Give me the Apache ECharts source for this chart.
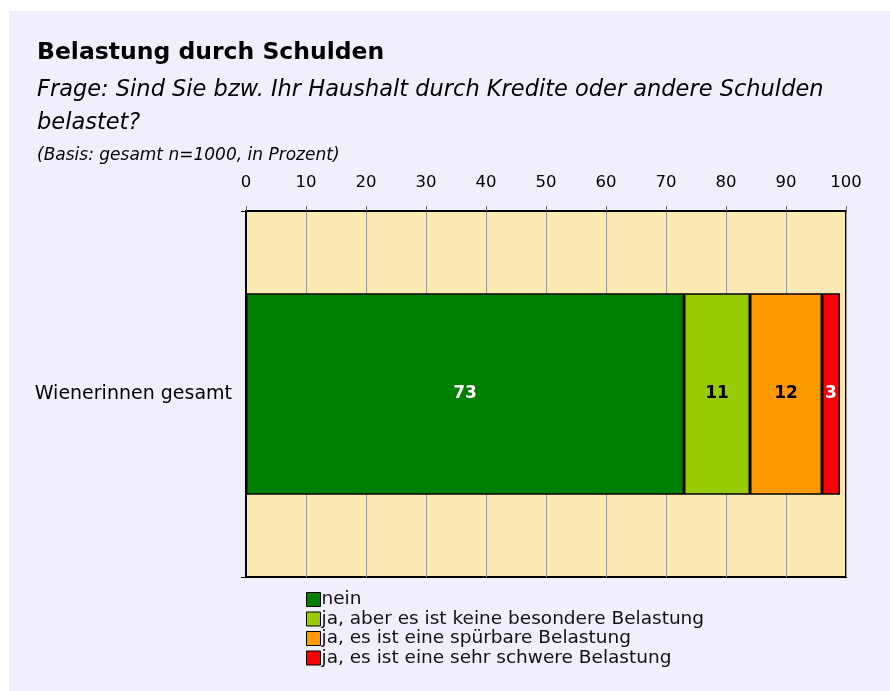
<!DOCTYPE html>
<html>
<head>
<meta charset="utf-8">
<script src="https://cdn.jsdelivr.net/npm/echarts@6/dist/echarts.min.js"></script>
<style>
  html, body { margin: 0; padding: 0; background: #fff; }
  #chart { width: 890px; height: 691px; }
</style>
</head>
<body>
<div id="chart"></div>
<script>
  const categories = ["Wienerinnen gesamt"];
  const seriesNames = [
    "nein",
    "ja, aber es ist keine besondere Belastung",
    "ja, es ist eine spürbare Belastung",
    "ja, es ist eine sehr schwere Belastung"
  ];
  const seriesValues = [[73], [11], [12], [3]];
  const seriesColors = ["#008000", "#99cc00", "#ff9900", "#ff0000"];
  const labelColors = ["#fff", "#000", "#000", "#fff"];

  const font = "'DejaVu Sans', sans-serif";
  const myChart = echarts.init(document.getElementById("chart"));

  let series = [];
  for (let i = 0; i < seriesNames.length; i++) {
    series.push({
      name: seriesNames[i],
      type: "bar",
      stack: "total",
      barWidth: "55%",
      data: seriesValues[i],
      itemStyle: {
        color: seriesColors[i],
        borderColor: "#000",
        borderWidth: 1.5
      },
      label: {
        show: true,
        position: "inside",
        color: labelColors[i],
        fontFamily: font,
        fontWeight: "bold",
        fontSize: 17
      }
    });
  }

  myChart.setOption({
    backgroundColor: "#fff",
    animation: false,
    graphic: [
      {
        // lavender panel, white strip on top and left
        type: "rect",
        z: -10,
        silent: true,
        shape: { x: 9, y: 11, width: 881, height: 680 },
        style: { fill: "#f0f0fd" }
      }
    ],
    title: [
      {
        text: "Belastung durch Schulden",
        left: 32, top: 36,
        textStyle: { fontFamily: font, fontWeight: "bold", fontSize: 23.5, color: "#000" }
      },
      {
        text: "Frage: Sind Sie bzw. Ihr Haushalt durch Kredite oder andere Schulden\nbelastet?",
        left: 32, top: 69,
        textStyle: { fontFamily: font, fontStyle: "italic", fontWeight: "normal", fontSize: 22.5, lineHeight: 33, color: "#000" }
      },
      {
        text: "(Basis: gesamt n=1000, in Prozent)",
        left: 32, top: 142,
        textStyle: { fontFamily: font, fontStyle: "italic", fontWeight: "normal", fontSize: 17, color: "#000" }
      }
    ],
    legend: {
      orient: "vertical",
      left: 301, top: 585,
      itemWidth: 14, itemHeight: 14, itemGap: 0.5,
      icon: "rect",
      data: seriesNames,
      itemStyle: { borderColor: "#000", borderWidth: 1 },
      textStyle: { fontFamily: font, fontSize: 18.5, lineHeight: 14, color: "#111", padding: [0, 0, 0, -4] }
    },
    grid: {
      left: 246, right: 44, top: 211, bottom: 114,
      show: true,
      backgroundColor: "#fce9b4",
      borderColor: "#000",
      borderWidth: 2
    },
    xAxis: {
      type: "value",
      position: "top",
      min: 0, max: 100, interval: 10,
      axisLine: { show: true, lineStyle: { color: "#000", width: 2 } },
      axisTick: { show: true, length: 5, lineStyle: { color: "#666" } },
      splitLine: { show: true, lineStyle: { color: "#999", width: 1 } },
      axisLabel: { fontFamily: font, fontSize: 16.5, color: "#000", margin: 20 }
    },
    yAxis: {
      type: "category",
      data: categories,
      axisLine: { show: true, lineStyle: { color: "#000", width: 2 } },
      axisTick: { show: true, length: 5, lineStyle: { color: "#000" } },
      axisLabel: { fontFamily: font, fontSize: 19, color: "#000", margin: 14 }
    },
    series: series
  });
</script>
</body>
</html>
